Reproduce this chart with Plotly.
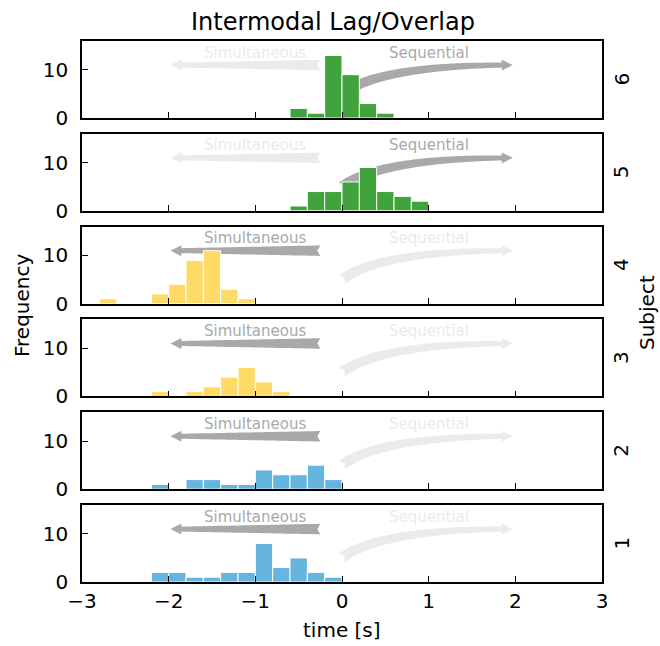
import numpy as np
import plotly.graph_objects as go
from plotly.subplots import make_subplots

# Histogram bins (left edges, seconds) shared by all subjects
bin_left = [-2.8, -2.6, -2.4, -2.2, -2.0, -1.8, -1.6, -1.4, -1.2, -1.0,
            -0.8, -0.6, -0.4, -0.2, 0.0, 0.2, 0.4, 0.6, 0.8]
bin_width = 0.2

# Counts per bin for each subject
counts_s1 = [0, 0, 0, 2, 2, 1, 1, 2, 2, 8, 3, 5, 2, 1, 0, 0, 0, 0, 0]
counts_s2 = [0, 0, 0, 1, 0, 2, 2, 1, 1, 4, 3, 3, 5, 2, 0, 0, 0, 0, 0]
counts_s3 = [0, 0, 0, 1, 0, 1, 2, 4, 6, 3, 1, 0, 0, 0, 0, 0, 0, 0, 0]
counts_s4 = [1, 0, 0, 2, 4, 9, 11, 3, 1, 0, 0, 0, 0, 0, 0, 0, 0, 0, 0]
counts_s5 = [0, 0, 0, 0, 0, 0, 0, 0, 0, 0, 0, 1, 4, 4, 6, 9, 4, 3, 2]
counts_s6 = [0, 0, 0, 0, 0, 0, 0, 0, 0, 0, 0, 2, 1, 13, 9, 3, 1, 0, 0]

subjects = ["6", "5", "4", "3", "2", "1"]          # top to bottom
subject_counts = [counts_s6, counts_s5, counts_s4, counts_s3, counts_s2, counts_s1]
subject_colors = ["#40a33c", "#40a33c", "#ffda66", "#ffda66", "#66b5de", "#66b5de"]
subject_mode = ["seq", "seq", "sim", "sim", "sim", "sim"]

ACTIVE = "#a9a9a9"
INACTIVE = "#ebebeb"

X_RANGE = [-3, 3]
Y_RANGE = [0, 16]

# panel size in pixels, used to shape the arrows in screen space
PANEL_W, PANEL_H = 520, 77
PX_X = PANEL_W / (X_RANGE[1] - X_RANGE[0])
PX_Y = PANEL_H / (Y_RANGE[1] - Y_RANGE[0])


def tapered_arrow(path_x, path_y, w_tail=10.5, w_neck=5.0, head_w=11.0,
                  head_len=11.0, notch=3.0):
    """Polygon for a tapering arrow following a path (tail -> tip)."""
    px = np.asarray(path_x, float) * PX_X
    py = np.asarray(path_y, float) * PX_Y
    seg = np.hypot(np.diff(px), np.diff(py))
    s = np.concatenate([[0.0], np.cumsum(seg)])
    L = s[-1]
    sb = L - head_len
    keep = s < sb
    bx = np.interp(sb, s, px)
    by = np.interp(sb, s, py)
    sx = np.append(px[keep], bx)
    sy = np.append(py[keep], by)
    ss = np.append(s[keep], sb)
    tx = np.gradient(sx)
    ty = np.gradient(sy)
    nrm = np.hypot(tx, ty)
    tx, ty = tx / nrm, ty / nrm
    nx, ny = -ty, tx
    w = w_tail + (w_neck - w_tail) * ss / sb
    lx, ly = sx + nx * w / 2, sy + ny * w / 2
    rx, ry = sx - nx * w / 2, sy - ny * w / 2
    dx, dy = px[-1] - bx, py[-1] - by
    d = np.hypot(dx, dy)
    hnx, hny = -dy / d, dx / d
    xs = list(lx) + [bx + hnx * head_w / 2, px[-1], bx - hnx * head_w / 2] + list(rx[::-1])
    ys = list(ly) + [by + hny * head_w / 2, py[-1], by - hny * head_w / 2] + list(ry[::-1])
    # notched tail
    xs += [sx[0] + tx[0] * notch]
    ys += [sy[0] + ty[0] * notch]
    return np.array(xs) / PX_X, np.array(ys) / PX_Y


def svg_path(poly):
    pts = [f"{x:.5f},{y:.5f}" for x, y in zip(poly[0], poly[1])]
    return "M " + " L ".join(pts) + " Z"


# "Simultaneous": straight arrow pointing left
t = np.linspace(0, 1, 40)
sim_x = -0.25 + (-1.98 + 0.25) * t
sim_y = np.full_like(t, 11.0)
sim_path = svg_path(tapered_arrow(sim_x, sim_y))

# "Sequential": curved arrow bending up and to the right (quadratic Bezier)
p0, c, p2 = (0.0, 5.0), (0.44, 11.0), (1.97, 11.0)
t = np.linspace(0, 1, 80)
seq_x = (1 - t) ** 2 * p0[0] + 2 * t * (1 - t) * c[0] + t ** 2 * p2[0]
seq_y = (1 - t) ** 2 * p0[1] + 2 * t * (1 - t) * c[1] + t ** 2 * p2[1]
seq_path = svg_path(tapered_arrow(seq_x, seq_y))

n_rows = len(subjects)
fig = make_subplots(rows=n_rows, cols=1, shared_xaxes=True,
                    vertical_spacing=15.8 / 541)

centers = [b + bin_width / 2 for b in bin_left]

for i in range(n_rows):
    row = i + 1
    axis_suffix = "" if row == 1 else str(row)
    xref, yref = "x" + axis_suffix, "y" + axis_suffix
    sim_col = ACTIVE if subject_mode[i] == "sim" else INACTIVE
    seq_col = ACTIVE if subject_mode[i] == "seq" else INACTIVE

    # arrows sit underneath the bars
    for path, col in ((sim_path, sim_col), (seq_path, seq_col)):
        fig.add_shape(type="path", path=path, xref=xref, yref=yref,
                      fillcolor=col, line=dict(width=0), layer="below")

    xs = [c_ for c_, n in zip(centers, subject_counts[i]) if n > 0]
    ys = [n for n in subject_counts[i] if n > 0]
    fig.add_trace(go.Bar(x=xs, y=ys, width=bin_width,
                         marker=dict(color=subject_colors[i],
                                     line=dict(color="white", width=1)),
                         showlegend=False),
                  row=row, col=1)

    fig.add_annotation(text="Simultaneous", x=-1.0, y=13.6,
                       xref=xref, yref=yref,
                       showarrow=False, yanchor="middle",
                       font=dict(size=15, color=sim_col))
    fig.add_annotation(text="Sequential", x=1.0, y=13.6,
                       xref=xref, yref=yref,
                       showarrow=False, yanchor="middle",
                       font=dict(size=15, color=seq_col))
    fig.add_annotation(text=subjects[i], textangle=-90,
                       x=(621 - 82) / PANEL_W, y=0.5,
                       xref="paper", yref=yref + " domain",
                       showarrow=False, xanchor="center", yanchor="middle",
                       font=dict(size=20, color="black"))

axis_common = dict(showline=True, linecolor="black", linewidth=1.7,
                   mirror=True, ticks="inside", ticklen=6, tickwidth=1.2,
                   tickcolor="black", showgrid=False, zeroline=False,
                   tickfont=dict(size=20, color="black"))

fig.update_xaxes(range=X_RANGE, tickvals=[-3, -2, -1, 0, 1, 2, 3], **axis_common)
fig.update_yaxes(range=Y_RANGE, tickvals=[0, 10], ticklabelstandoff=8,
                 **axis_common)

fig.add_annotation(text="time [s]", x=0.5, y=(582 - 630) / 541,
                   xref="paper", yref="paper", showarrow=False,
                   yanchor="middle", font=dict(size=20, color="black"))
fig.add_annotation(text="Frequency", textangle=-90, x=(22 - 82) / PANEL_W,
                   y=(582 - 306) / 541, xref="paper", yref="paper",
                   showarrow=False, xanchor="center", yanchor="middle",
                   font=dict(size=20, color="black"))
fig.add_annotation(text="Subject", textangle=-90, x=(647 - 82) / PANEL_W,
                   y=(582 - 313) / 541, xref="paper", yref="paper",
                   showarrow=False, xanchor="center", yanchor="middle",
                   borderpad=0,
                   font=dict(size=20, color="black"))

fig.update_layout(
    width=660, height=646,
    margin=dict(l=82, r=58, t=41, b=64),
    paper_bgcolor="white", plot_bgcolor="white",
    font=dict(family="DejaVu Sans", color="black"),
    title=dict(text="Intermodal Lag/Overlap", x=333 / 660, y=1 - 22 / 646,
               xanchor="center", yanchor="middle",
               font=dict(size=24, color="black")),
    barmode="overlay", showlegend=False,
)

fig.write_html("out.html")
